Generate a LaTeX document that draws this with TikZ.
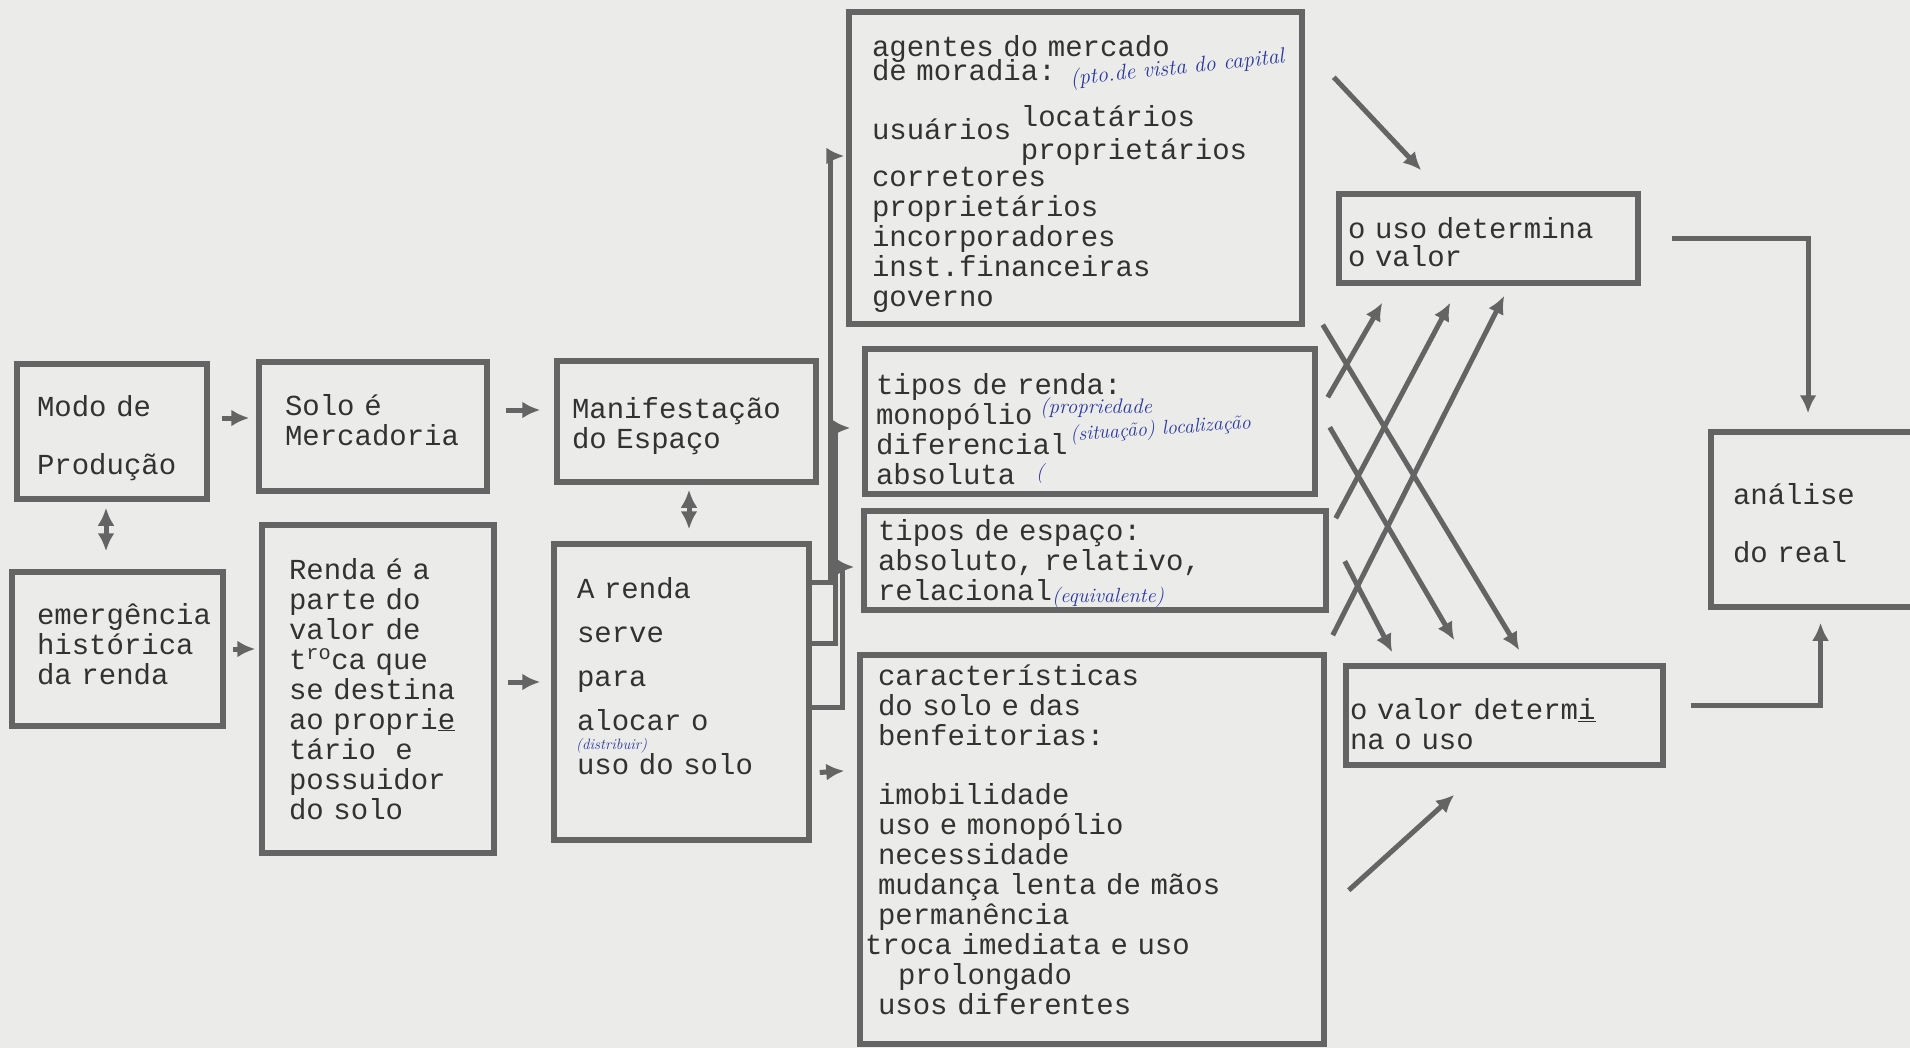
\documentclass[tikz,border=0pt]{standalone}
\usepackage{fontspec}
\newfontfamily\typefont{Liberation Mono}
\newcommand\typed{\typefont\fontsize{29}{30}\selectfont}
% fix height of first and depth of last typed line
\newcommand\headroom[1]{\rule{0pt}{#1pt}}
\newcommand\footroom[1]{\rule[-#1pt]{0pt}{0pt}}
\usetikzlibrary{positioning,arrows.meta}
\definecolor{paper}{RGB}{235,235,233}
\definecolor{pencil}{RGB}{100,100,100}
\definecolor{ribbon}{RGB}{50,50,50}
\definecolor{ink}{RGB}{40,55,160}
\tikzset{
  box/.style={draw=pencil, line width=5.5pt, text=ribbon, align=left,
    font=\typed, inner ysep=2pt},
  note/.style={text=ink, font=\fontsize{20}{20}\selectfont\itshape, inner sep=0pt, anchor=west},
  link/.style={draw=pencil, line width=5pt, ->},
}

\begin{document}
\begin{tikzpicture}[>={Latex[length=18pt,width=17pt]}, x=1pt, y=-1pt]
        \fill[paper] (0,0) rectangle (1910,1048);
        \useasboundingbox (0,0) rectangle (1910,1048);
        \path
        % 1st column
        +(112, 431.5)  node[box, text width=150, inner xsep=20, minimum height=135] (modo) {\headroom{35}Modo de\\[28pt]Produção\footroom{8}}
        +(117.5, 649)  node[box, text width=161, inner xsep=25, minimum height=154] (emerg) {\headroom{27}emergência\\histórica\\da renda\footroom{16}}
        % 2nd column
        +(373, 426.5)  node[box, text width=176, inner xsep=26, minimum height=129] (solo) {\headroom{27}Solo é\\Mercadoria\footroom{19}}
        +(378, 689)    node[box, text width=178, inner xsep=27, minimum height=328] (renda) {\headroom{28}Renda é a\\parte do\\valor de\\t\textsuperscript{ro}ca que\\se destina\\ao propri\underline{e}\\tário\ \ e\\possuidor\\do solo\footroom{8}}
        % 3rd column
        +(686.5, 421.5) node[box, text width=229, inner xsep=15, minimum height=121] (manif) {\headroom{31}Manifestação\\do Espaço\footroom{8}}
        +(681.5, 692)  node[box, text width=209, inner xsep=23, minimum height=296] (arenda) {\headroom{26}A renda\\[14pt]serve\\[14pt]para\\[14pt]alocar o\\[14pt]uso do solo\footroom{38}}
        % 4th column
        +(1075.5, 168) node[box, text width=407, inner xsep=23, minimum height=312] (agentes) {\headroom{36}agentes do mercado\\[-6pt]de moradia:\\[16pt]\phantom{usuários }locatários\\[-17pt]usuários\\[-10pt]\phantom{usuários }proprietários\\[-3pt]corretores\\proprietários\\incorporadores\\inst.financeiras\\governo\footroom{8}}
        +(1090, 421.5) node[box, text width=428, inner xsep=11, minimum height=131] (trenda) {\headroom{43}tipos de renda:\\monopólio\\diferencial\\absoluta\footroom{8}}
        +(1095, 560.5) node[box, text width=434, inner xsep=14, minimum height=97] (tespaco) {\headroom{27}tipos de espaço:\\absoluto, relativo,\\relacional\footroom{8}}
        +(1092, 849.5) node[box, text width=428, inner xsep=18, minimum height=389] (caract) {\headroom{26}características\\do solo e das\\benfeitorias:\\[29pt]imobilidade\\uso e monopólio\\necessidade\\mudança lenta de mãos\\permanência\\\hspace*{-13pt}troca imediata e uso\\\hspace*{20pt}prolongado\\usos diferentes\footroom{26}}
        % 5th column
        +(1488.5, 238.5) node[box, text width=281, inner xsep=9, minimum height=89] (usodet) {\headroom{36}o uso determina\\[-2pt]o valor\footroom{8}}
        +(1504.5, 715.5) node[box, text width=309, inner xsep=4, minimum height=99] (valordet) {\headroom{46}o valor determ\underline{i}\\na o uso\footroom{8}}
        % 6th column
        +(1820.5, 519.5) node[box, text width=175, inner xsep=22, minimum height=175] (analise) {\headroom{35}análise\\[28pt]do real\footroom{8}}
        % handwritten notes
        +(1070, 80)    node[note, rotate=6, font=\fontsize{22}{22}\selectfont\itshape] (note1) {(pto.de vista do capital}
        +(1040, 408)   node[note, font=\fontsize{21}{21}\selectfont\itshape] (note2) {(propriedade}
        +(1070, 436)   node[note, rotate=4] (note3) {(situação) localização}
        +(1036, 474)   node[note] (note4) {(}
        +(1052, 597)   node[note, font=\fontsize{20.5}{20.5}\selectfont\itshape] (note5) {(equivalente)}
        +(576, 746)    node[note, font=\fontsize{15}{15}\selectfont\itshape] (note6) {(distribuir)};

        % left part
        \draw[link, shorten <=12pt, shorten >=7pt] ([yshift=13.5pt]modo.east) -- ([yshift=8.5pt]solo.west);
        \draw[link, shorten <=16pt, shorten >=14pt] ([yshift=16.5pt]solo.east) -- ([yshift=11.5pt]manif.west);
        \draw[link, shorten <=7pt, shorten >=4pt] (emerg.east) -- ([yshift=40pt]renda.west);
        \draw[link, shorten <=11pt, shorten >=11pt] ([yshift=7pt]renda.east) -- ([yshift=10pt]arenda.west);
        \draw[link, <->, shorten <=6pt, shorten >=18pt] ([xshift=-6pt]modo.south) -- ([xshift=-11.5pt]emerg.north);
        \draw[link, <->, shorten <=5pt, shorten >=12pt] ([xshift=2.5pt]manif.south) -- ([xshift=7.5pt]arenda.north);

        % from A renda to the four boxes
        \draw[link, shorten >=2pt] ([yshift=110pt]arenda.east) -- ++(19,0) |- ([yshift=12pt]agentes.west);
        \draw[link, shorten >=12pt] ([yshift=49pt]arenda.east) -- ++(24,0) |- ([yshift=-6.5pt]trenda.west);
        \draw[link, shorten >=7pt] ([yshift=-15pt]arenda.east) -- ++(31,0) |- ([yshift=-6.5pt]tespaco.west);
        \draw[link, shorten <=8pt, shorten >=13pt] ([yshift=-81pt]arenda.east) -- ([yshift=79.5pt]caract.west);

        % into the two determinations
        \draw[link] ([xshift=29pt,yshift=-68pt]agentes.north east) -- ([xshift=85pt,yshift=21pt]usodet.north west);
        \draw[link] ([xshift=10pt,yshift=-51pt]trenda.north east) -- ([xshift=46pt,yshift=-17pt]usodet.south west);
        \draw[link] ([xshift=7pt,yshift=-10pt]tespaco.north east) -- ([xshift=114pt,yshift=-17pt]usodet.south west);
        \draw[link] ([xshift=6pt,yshift=17pt]caract.north east) -- ([xshift=168pt,yshift=-10pt]usodet.south west);
        \draw[link] ([xshift=18pt,yshift=2pt]agentes.south east) -- ([xshift=176pt,yshift=13pt]valordet.north west);
        \draw[link] ([xshift=12pt,yshift=-81pt]trenda.north east) -- ([xshift=111pt,yshift=23pt]valordet.north west);
        \draw[link] ([xshift=16pt,yshift=-53pt]tespaco.north east) -- ([xshift=49pt,yshift=11pt]valordet.north west);
        \draw[link] ([xshift=22pt,yshift=-238pt]caract.north east) -- ([xshift=111pt,yshift=-27pt]valordet.south west);

        % to the analysis
        \draw[link, shorten >=16pt] ([xshift=31pt]usodet.east) -| ([xshift=-12.5pt]analise.north);
        \draw[link, shorten >=13pt] ([xshift=25pt,yshift=10pt]valordet.east) -| (analise.south);
\end{tikzpicture}
\end{document}
